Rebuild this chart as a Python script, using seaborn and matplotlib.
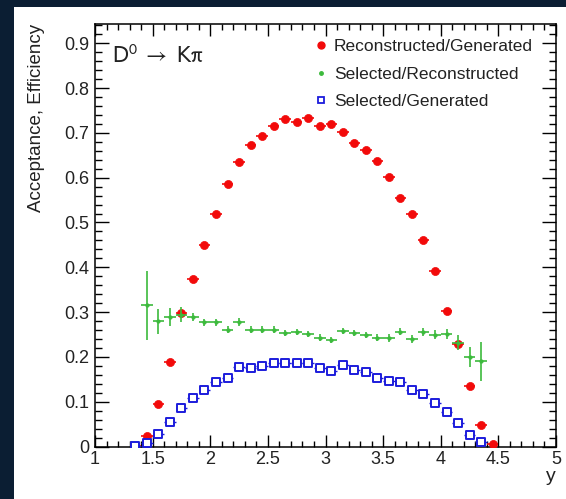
import matplotlib
matplotlib.use("Agg")
import matplotlib.pyplot as plt
from matplotlib.lines import Line2D
from matplotlib.patches import Rectangle
from matplotlib.ticker import MultipleLocator
import seaborn as sns
import pandas as pd

# ---------------- data ----------------
rec_y = [1.35, 1.45, 1.55, 1.65, 1.75, 1.85, 1.95, 2.05, 2.15, 2.25, 2.35, 2.45,
         2.55, 2.65, 2.75, 2.85, 2.95, 3.05, 3.15, 3.25, 3.35, 3.45, 3.55, 3.65,
         3.75, 3.85, 3.95, 4.05, 4.15, 4.25, 4.35, 4.45]
rec_gen = [0.001, 0.023, 0.095, 0.189, 0.298, 0.374, 0.450, 0.519, 0.587, 0.634,
           0.673, 0.692, 0.716, 0.730, 0.724, 0.733, 0.716, 0.719, 0.701, 0.677,
           0.662, 0.637, 0.602, 0.555, 0.519, 0.461, 0.391, 0.303, 0.229, 0.135,
           0.049, 0.005]

sel_y = [1.45, 1.55, 1.65, 1.75, 1.85, 1.95, 2.05, 2.15, 2.25, 2.35, 2.45, 2.55,
         2.65, 2.75, 2.85, 2.95, 3.05, 3.15, 3.25, 3.35, 3.45, 3.55, 3.65, 3.75,
         3.85, 3.95, 4.05, 4.15, 4.25, 4.35]
sel_rec = [0.315, 0.279, 0.289, 0.294, 0.289, 0.277, 0.277, 0.261, 0.278, 0.261,
           0.261, 0.261, 0.253, 0.255, 0.251, 0.243, 0.237, 0.257, 0.253, 0.249,
           0.243, 0.242, 0.256, 0.240, 0.255, 0.249, 0.251, 0.232, 0.199, 0.190]
sel_rec_err = [0.077, 0.029, 0.020, 0.017, 0.010, 0.008, 0.008, 0.007, 0.008, 0.007,
               0.007, 0.007, 0.007, 0.007, 0.007, 0.007, 0.007, 0.007, 0.007, 0.007,
               0.007, 0.008, 0.008, 0.008, 0.009, 0.010, 0.012, 0.017, 0.022, 0.044]

selg_y = [1.35, 1.45, 1.55, 1.65, 1.75, 1.85, 1.95, 2.05, 2.15, 2.25, 2.35, 2.45,
          2.55, 2.65, 2.75, 2.85, 2.95, 3.05, 3.15, 3.25, 3.35, 3.45, 3.55, 3.65,
          3.75, 3.85, 3.95, 4.05, 4.15, 4.25, 4.35]
sel_gen = [0.001, 0.007, 0.027, 0.054, 0.087, 0.108, 0.126, 0.145, 0.154, 0.178,
           0.175, 0.180, 0.186, 0.186, 0.186, 0.187, 0.176, 0.169, 0.181, 0.171,
           0.166, 0.154, 0.146, 0.143, 0.125, 0.118, 0.097, 0.076, 0.052, 0.026,
           0.010]

half_bin = 0.05
labels = ["Reconstructed/Generated", "Selected/Reconstructed", "Selected/Generated"]
x_ticks = [1, 1.5, 2, 2.5, 3, 3.5, 4, 4.5, 5]
x_ticklabels = ["1", "1.5", "2", "2.5", "3", "3.5", "4", "4.5", "5"]
y_ticks = [0, 0.1, 0.2, 0.3, 0.4, 0.5, 0.6, 0.7, 0.8, 0.9]
y_ticklabels = ["0", "0.1", "0.2", "0.3", "0.4", "0.5", "0.6", "0.7", "0.8", "0.9"]

RED = "#f20a0a"
GREEN = "#3cba3c"
BLUE = "#1c1cdc"
NAVY = "#0b1e33"
TXT = "#222222"

# ---------------- style ----------------
sns.set_theme(style="ticks")
plt.rcParams["font.family"] = ["Liberation Sans", "DejaVu Sans"]
plt.rcParams["text.color"] = TXT

fig = plt.figure(figsize=(5.66, 4.99), dpi=100, facecolor=NAVY)
bg = Rectangle((14 / 566, 0), 1 - 14 / 566, 1 - 7 / 499,
               transform=fig.transFigure, facecolor="white",
               edgecolor="none", zorder=-10)
fig.add_artist(bg)

ax = fig.add_axes([95 / 566, 1 - 446.5 / 499, (556 - 95) / 566, (446.5 - 24) / 499])
ax.set_zorder(1)
ax.set_facecolor("white")

df_rec = pd.DataFrame({"y": rec_y, "v": rec_gen})
df_sel = pd.DataFrame({"y": sel_y, "v": sel_rec, "e": sel_rec_err})
df_sg = pd.DataFrame({"y": selg_y, "v": sel_gen})

# red: reconstructed / generated
ax.errorbar(df_rec["y"], df_rec["v"], xerr=half_bin, yerr=0.003, fmt="none",
            ecolor=RED, elinewidth=1.2, capsize=0, zorder=2)
sns.scatterplot(data=df_rec, x="y", y="v", ax=ax, color=RED, marker="o", s=34,
                edgecolor=RED, linewidth=0.5, zorder=3, legend=False)

# green: selected / reconstructed
ax.errorbar(df_sel["y"], df_sel["v"], xerr=half_bin, yerr=df_sel["e"], fmt="none",
            ecolor=GREEN, elinewidth=1.2, capsize=0, zorder=4)
sns.scatterplot(data=df_sel, x="y", y="v", ax=ax, color=GREEN, marker="o", s=7,
                edgecolor=GREEN, linewidth=0.3, zorder=5, legend=False)

# blue: selected / generated
ax.errorbar(df_sg["y"], df_sg["v"], xerr=half_bin, yerr=0.002, fmt="none",
            ecolor=BLUE, elinewidth=1.0, capsize=0, zorder=6)
sns.scatterplot(data=df_sg, x="y", y="v", ax=ax, color=BLUE, marker="s", s=34,
                facecolor="white", edgecolor=BLUE, linewidth=1.4, zorder=7,
                legend=False)

ax.set_xlim(1, 5)
ax.set_ylim(0, 0.943)
ax.set_xticks(x_ticks)
ax.set_xticklabels(x_ticklabels)
ax.set_yticks(y_ticks)
ax.set_yticklabels(y_ticklabels)
ax.xaxis.set_minor_locator(MultipleLocator(0.1))
ax.yaxis.set_minor_locator(MultipleLocator(0.02))

for sp in ax.spines.values():
    sp.set_visible(True)
    sp.set_color("black")
    sp.set_linewidth(1.1)

ax.tick_params(axis="both", which="both", direction="in", top=True, right=True,
               colors="black", labelcolor=TXT, labelsize=13, width=1.0)
ax.tick_params(axis="x", which="major", length=8.5, pad=3)
ax.tick_params(axis="x", which="minor", length=4.3)
ax.tick_params(axis="y", which="major", length=10, pad=4)
ax.tick_params(axis="y", which="minor", length=5)

ax.set_ylabel("Acceptance, Efficiency", fontsize=13.5, color=TXT, loc="top")
ax.yaxis.set_label_coords(-0.108, 1.0)
ax.set_xlabel("y", fontsize=14, color=TXT, loc="right")
ax.xaxis.set_label_coords(1.0, -0.05)

ax.text(112 / 566, 1 - 63 / 499,
        r"$\mathrm{D}^{0}\ \rightarrow\ \mathrm{K\pi}$",
        math_fontfamily="stixsans",
        transform=fig.transFigure, fontsize=16.5, color=TXT, ha="left",
        va="baseline")

handles = [
    Line2D([], [], ls="none", marker="o", color=RED, ms=5),
    Line2D([], [], ls="none", marker="o", color=GREEN, ms=2.5),
    Line2D([], [], ls="none", marker="s", mfc="white", mec=BLUE, mew=1.3, ms=5),
]
leg = ax.legend(handles, labels, loc="upper left",
                bbox_to_anchor=(313 / 566, 1 - 39 / 499),
                bbox_transform=fig.transFigure, frameon=False, fontsize=12.5,
                handlelength=0.9, handletextpad=0.3, labelspacing=0.72,
                borderpad=0, borderaxespad=0)
for t in leg.get_texts():
    t.set_color(TXT)

fig.savefig("out.png", dpi=100, facecolor=NAVY)
